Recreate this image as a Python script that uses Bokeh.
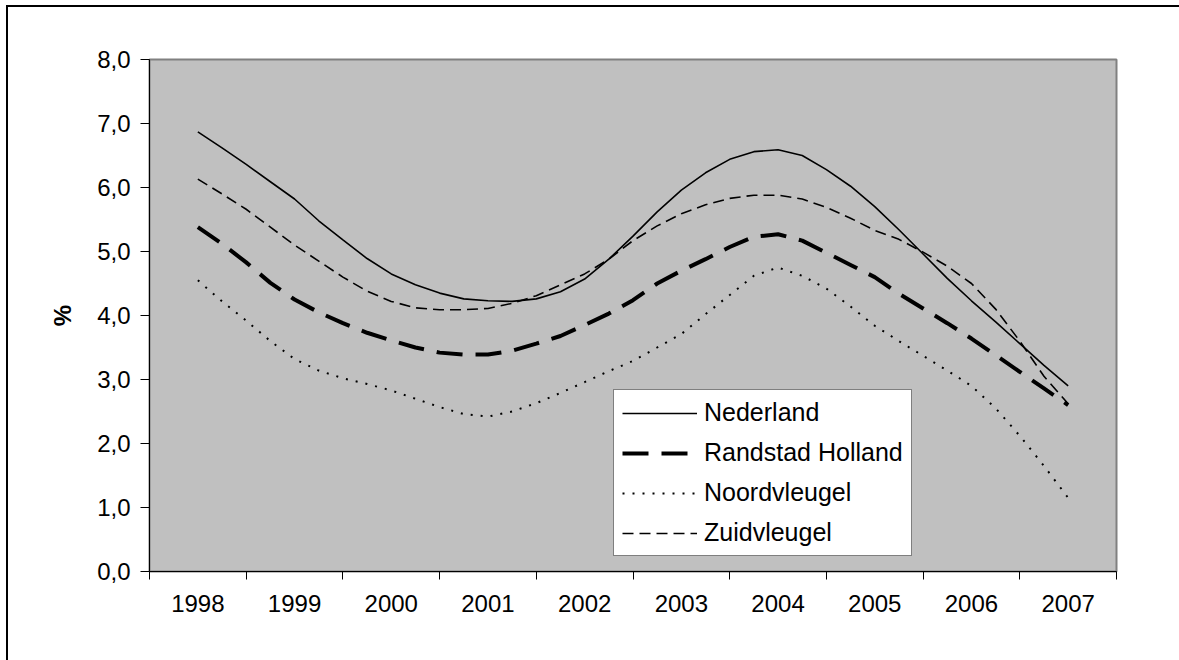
from bokeh.plotting import figure
from bokeh.models import Range1d, FixedTicker, Legend, LegendItem
from bokeh.embed import file_html
from bokeh.resources import INLINE

FONT = "Liberation Sans"

# Category years (x axis) and tick labels
years = [1998, 1999, 2000, 2001, 2002, 2003, 2004, 2005, 2006, 2007]
year_labels = ["1998", "1999", "2000", "2001", "2002", "2003", "2004", "2005", "2006", "2007"]
category_bounds = [1997.5, 1998.5, 1999.5, 2000.5, 2001.5, 2002.5, 2003.5, 2004.5,
                   2005.5, 2006.5, 2007.5]

y_ticks = [0, 1, 2, 3, 4, 5, 6, 7, 8]
y_tick_labels = ["0,0", "1,0", "2,0", "3,0", "4,0", "5,0", "6,0", "7,0", "8,0"]

# Read-off positions along the smoothed curves (quarters)
t = [1998.0, 1998.25, 1998.5, 1998.75, 1999.0, 1999.25, 1999.5, 1999.75,
     2000.0, 2000.25, 2000.5, 2000.75, 2001.0, 2001.25, 2001.5, 2001.75,
     2002.0, 2002.25, 2002.5, 2002.75, 2003.0, 2003.25, 2003.5, 2003.75,
     2004.0, 2004.25, 2004.5, 2004.75, 2005.0, 2005.25, 2005.5, 2005.75,
     2006.0, 2006.25, 2006.5, 2006.75, 2007.0]

nederland = [6.87, 6.62, 6.36, 6.09, 5.82, 5.48, 5.18, 4.89,
             4.65, 4.48, 4.35, 4.26, 4.23, 4.22, 4.26, 4.37,
             4.57, 4.88, 5.24, 5.62, 5.96, 6.23, 6.44, 6.56,
             6.59, 6.50, 6.28, 6.02, 5.70, 5.34, 4.96, 4.58,
             4.23, 3.90, 3.56, 3.22, 2.90]

randstad = [5.38, 5.12, 4.83, 4.51, 4.25, 4.05, 3.88, 3.73,
            3.61, 3.50, 3.42, 3.39, 3.39, 3.45, 3.56, 3.68,
            3.85, 4.03, 4.24, 4.50, 4.70, 4.88, 5.07, 5.23,
            5.27, 5.17, 4.98, 4.79, 4.60, 4.34, 4.11, 3.88,
            3.64, 3.38, 3.12, 2.86, 2.60]

noordvleugel = [4.55, 4.22, 3.92, 3.60, 3.32, 3.14, 3.02, 2.93,
                2.83, 2.70, 2.57, 2.46, 2.42, 2.50, 2.63, 2.79,
                2.96, 3.13, 3.29, 3.50, 3.71, 4.02, 4.32, 4.62,
                4.75, 4.62, 4.42, 4.14, 3.84, 3.60, 3.37, 3.14,
                2.90, 2.55, 2.12, 1.65, 1.15]

zuidvleugel = [6.13, 5.90, 5.66, 5.38, 5.10, 4.85, 4.60, 4.38,
               4.22, 4.12, 4.09, 4.09, 4.11, 4.19, 4.31, 4.48,
               4.65, 4.88, 5.17, 5.40, 5.59, 5.73, 5.83, 5.88,
               5.88, 5.82, 5.69, 5.52, 5.33, 5.19, 4.99, 4.77,
               4.50, 4.10, 3.60, 3.05, 2.62]

series_names = ["Nederland", "Randstad Holland", "Noordvleugel", "Zuidvleugel"]

p = figure(width=1176, height=656,
           x_range=Range1d(1997.5, 2007.5), y_range=Range1d(0, 8),
           output_backend="svg", toolbar_location=None,
           min_border_left=149, min_border_top=59,
           min_border_right=60, min_border_bottom=85)

p.border_fill_color = "white"
p.border_fill_alpha = 0
p.background_fill_color = "#C0C0C0"
p.outline_line_color = "#808080"
p.outline_line_width = 2
p.grid.visible = False

# y axis
yax = p.yaxis[0]
yax.ticker = FixedTicker(ticks=y_ticks)
yax.major_label_overrides = {k: v for k, v in zip(y_ticks, y_tick_labels)}
yax.major_tick_in = 0
yax.major_tick_out = 9
yax.minor_tick_line_color = None
yax.axis_line_color = "black"
yax.major_tick_line_color = "black"
yax.major_label_standoff = 10
yax.major_label_text_font = FONT
yax.major_label_text_font_size = "24px"
yax.major_label_text_color = "black"
yax.axis_label = "%"
yax.axis_label_text_font = FONT
yax.axis_label_text_font_size = "24px"
yax.axis_label_text_font_style = "bold"
yax.axis_label_text_color = "black"
yax.axis_label_standoff = 18

# x axis
xax = p.xaxis[0]
xax.ticker = FixedTicker(ticks=years, minor_ticks=category_bounds)
xax.major_label_overrides = {k: v for k, v in zip(years, year_labels)}
xax.major_tick_in = 0
xax.major_tick_out = 0
xax.minor_tick_in = 0
xax.minor_tick_out = 8
xax.minor_tick_line_color = "black"
xax.axis_line_color = "black"
xax.major_label_standoff = 15
xax.major_label_text_font = FONT
xax.major_label_text_font_size = "24px"
xax.major_label_text_color = "black"

r1 = p.line(t, nederland, line_color="black", line_width=1.6)
r2 = p.line(t, randstad, line_color="black", line_width=4, line_dash="26 13")
r3 = p.line(t, noordvleugel, line_color="black", line_width=2, line_dash="2 8")
r4 = p.line(t, zuidvleugel, line_color="black", line_width=1.6, line_dash="11 6")

legend = Legend(items=[LegendItem(label=series_names[0], renderers=[r1]),
                       LegendItem(label=series_names[1], renderers=[r2]),
                       LegendItem(label=series_names[2], renderers=[r3]),
                       LegendItem(label=series_names[3], renderers=[r4])],
                location=(464, 15))
legend.border_line_color = "black"
legend.border_line_width = 1
legend.background_fill_color = "white"
legend.background_fill_alpha = 1
legend.glyph_width = 75
legend.glyph_height = 28
legend.label_height = 28
legend.spacing = 11
legend.padding = 8
legend.margin = 0
legend.label_standoff = 7
legend.label_text_font = FONT
legend.label_text_font_size = "25px"
legend.label_text_color = "black"
p.add_layout(legend)

html = file_html(p, INLINE)
# chart-area border: only its left and top edges fall inside the window
page_style = ("<style>html, body { overflow: hidden; } "
              "body { background: "
              "linear-gradient(#000, #000) 6px 5px / 2px 655px no-repeat, "
              "linear-gradient(#000, #000) 6px 5px / 1173px 2px no-repeat, "
              "#ffffff; }</style>")
html = html.replace("</head>", page_style + "</head>", 1)
open("out.html", "w").write(html)
